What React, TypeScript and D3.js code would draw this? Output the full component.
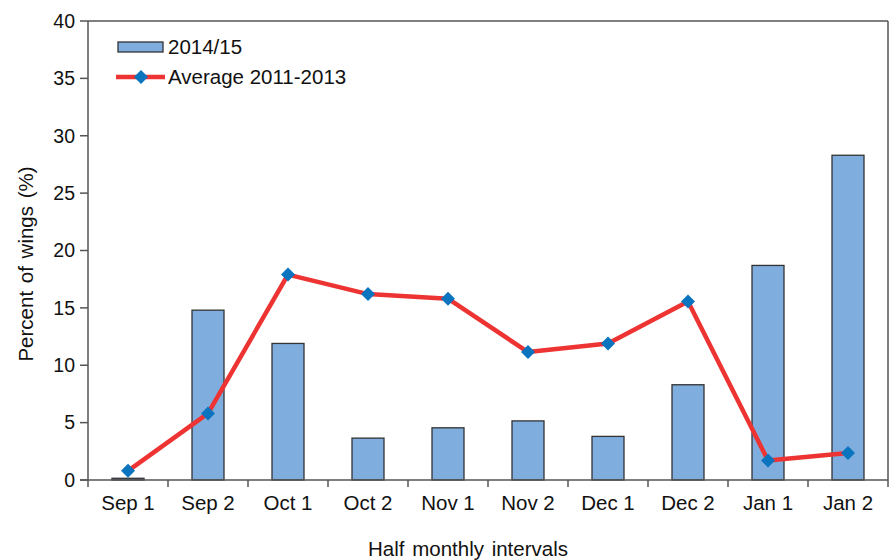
import React from 'react';
import * as d3 from 'd3';

const categories = ['Sep 1', 'Sep 2', 'Oct 1', 'Oct 2', 'Nov 1', 'Nov 2', 'Dec 1', 'Dec 2', 'Jan 1', 'Jan 2'];
const season2014 = [0.15, 14.8, 11.9, 3.65, 4.55, 5.15, 3.8, 8.3, 18.7, 28.3];
const average2011_2013 = [0.8, 5.8, 17.9, 16.2, 15.8, 11.15, 11.9, 15.55, 1.7, 2.35];
const yTicks = [0, 5, 10, 15, 20, 25, 30, 35, 40];

const W = 890;
const H = 560;
const margin = { top: 21, right: 2, bottom: 80, left: 88 };
const font = '"Liberation Sans", Arial, sans-serif';
const axisColor = '#555';

export default function App() {
    const x = d3.scaleBand<string>()
        .domain(categories)
        .range([margin.left, W - margin.right])
        .paddingInner(0)
        .paddingOuter(0);
    const y = d3.scaleLinear().domain([0, 40]).range([H - margin.bottom, margin.top]);

    const bw = x.bandwidth() * 0.4;
    const cx = (c: string) => (x(c) as number) + x.bandwidth() / 2;

    const line = d3.line<number>()
        .x((_, i) => cx(categories[i]))
        .y(d => y(d));

    const diamond = (px: number, py: number, r: number) =>
        `M${px},${py - r}L${px + r},${py}L${px},${py + r}L${px - r},${py}Z`;

    const bottom = y(0);
    const left = margin.left;
    const right = W - margin.right;

    return (
        <svg width={W} height={H} style={{ position: 'absolute', left: 0, top: 0 }} fontFamily={font}>
            {/* bars */}
            {season2014.map((v, i) => (
                <rect key={i}
                    x={cx(categories[i]) - bw / 2}
                    y={y(v)}
                    width={bw}
                    height={bottom - y(v)}
                    fill="#7fadde"
                    stroke="#333"
                    strokeWidth={1.3} />
            ))}

            {/* frame */}
            <line x1={left} x2={right} y1={margin.top} y2={margin.top} stroke={axisColor} strokeWidth={1.5} />
            <line x1={right} x2={right} y1={margin.top} y2={bottom} stroke={axisColor} strokeWidth={1.5} />
            <line x1={left} x2={left} y1={margin.top} y2={bottom} stroke={axisColor} strokeWidth={1.5} />
            <line x1={left - 8} x2={right} y1={bottom} y2={bottom} stroke={axisColor} strokeWidth={1.5} />

            {/* y ticks */}
            {yTicks.map(t => (
                <g key={t}>
                    <line x1={left - 8} x2={left} y1={y(t)} y2={y(t)} stroke={axisColor} strokeWidth={1.5} />
                    <text x={left - 13} y={y(t)} dy="0.35em" textAnchor="end" fontSize={19.5} fill="#111">{t}</text>
                </g>
            ))}

            {/* x ticks */}
            {categories.map(c => (
                <line key={c} x1={x(c)} x2={x(c)} y1={bottom} y2={bottom + 7} stroke={axisColor} strokeWidth={1.5} />
            ))}
            <line x1={right} x2={right} y1={bottom} y2={bottom + 7} stroke={axisColor} strokeWidth={1.5} />
            {categories.map(c => (
                <text key={c} x={cx(c)} y={bottom + 30} textAnchor="middle" fontSize={20.5} fill="#111">{c}</text>
            ))}

            {/* line series */}
            <path d={line(average2011_2013) || ''} fill="none" stroke="#ee3333" strokeWidth={4.5} strokeLinejoin="round" />
            {average2011_2013.map((v, i) => (
                <path key={i} d={diamond(cx(categories[i]), y(v), 7)} fill="#0a74bf" />
            ))}

            {/* axis titles */}
            <text x={468} y={556} textAnchor="middle" fontSize={20.5} wordSpacing={2} fill="#111">Half monthly intervals</text>
            <text transform={`translate(33,264) rotate(-90)`} textAnchor="middle" fontSize={20.5} wordSpacing={2} fill="#111">Percent of wings (%)</text>

            {/* legend */}
            <rect x={118} y={42} width={45} height={10} fill="#7fadde" stroke="#333" strokeWidth={1.3} />
            <text x={168} y={47} dy="0.35em" fontSize={20.5} fill="#111">2014/15</text>
            <line x1={116} x2={165} y1={77} y2={77} stroke="#ee3333" strokeWidth={4.5} />
            <path d={diamond(141, 77, 7)} fill="#0a74bf" />
            <text x={168} y={77} dy="0.35em" fontSize={20.5} fill="#111">Average 2011-2013</text>
        </svg>
    );
}
